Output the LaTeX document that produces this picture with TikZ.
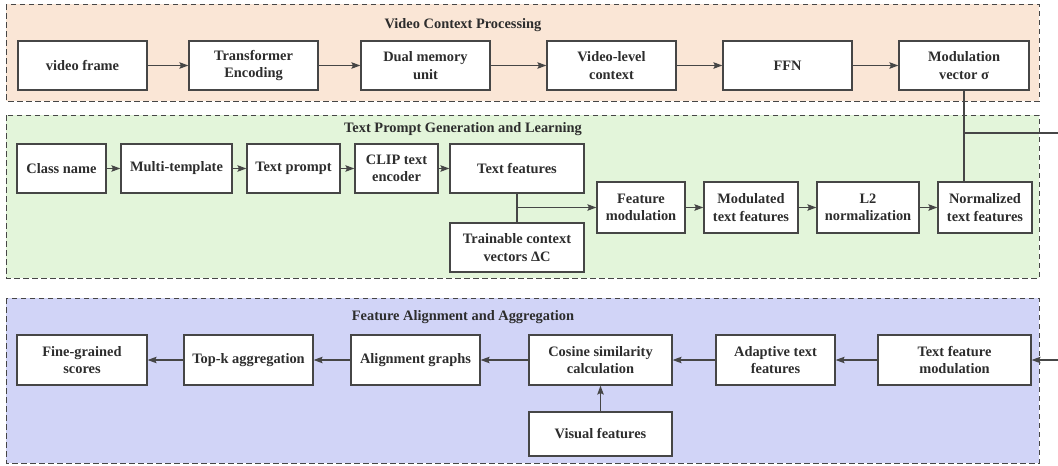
\documentclass[tikz,border=0pt]{standalone}
\usepackage{fontspec}
\setmainfont{Liberation Serif}
\usetikzlibrary{arrows.meta}
\definecolor{orangebg}{RGB}{250,230,214}
\definecolor{greenbg}{RGB}{227,245,218}
\definecolor{bluebg}{RGB}{209,212,247}
\definecolor{edge}{RGB}{70,70,70}
\definecolor{txt}{RGB}{45,45,45}
\begin{document}
\begin{tikzpicture}[x=1pt,y=-1pt,
  group/.style={draw=edge,dashed,dash pattern=on 5.5pt off 3.5pt,line width=1pt},
  stepbox/.style={draw=edge,line width=1.2pt,fill=white,align=center,inner sep=1pt,
    text=txt,font=\bfseries\fontsize{14.4}{17.5}\selectfont},
  gtitle/.style={text=txt,font=\bfseries\fontsize{14.4}{17.5}\selectfont,inner sep=0pt},
  arr/.style={draw=edge,line width=1.2pt,-{Stealth[length=9pt,width=6.5pt,inset=1.5pt]}},
  ln/.style={draw=edge,line width=1.2pt}]
\useasboundingbox (0,0) rectangle (1058,466);
\fill[white] (0,0) rectangle (1058,466);
% groups
\draw[group,fill=orangebg] (6,4) rectangle (1039,101);
\draw[group,fill=greenbg] (6,115) rectangle (1039,278);
\draw[group,fill=bluebg] (6,298) rectangle (1039,463);
\node[gtitle] (t1) at (463,25) {Video Context Processing};
\node[gtitle] (t2) at (463,129) {Text Prompt Generation and Learning};
\node[gtitle] (t3) at (463,317) {Feature Alignment and Aggregation};
% row 1
\node[stepbox,minimum width=129pt,minimum height=49pt] (vf) at (82.5,65.5) {video frame};
\node[stepbox,minimum width=129pt,minimum height=49pt] (te) at (253.5,65.5) {Transformer\\Encoding};
\node[stepbox,minimum width=129pt,minimum height=49pt] (dm) at (425.5,65.5) {Dual memory\\unit};
\node[stepbox,minimum width=129pt,minimum height=49pt] (vl) at (611.5,65.5) {Video-level\\context};
\node[stepbox,minimum width=129pt,minimum height=49pt] (ffn) at (787.5,65.5) {FFN};
\node[stepbox,minimum width=130pt,minimum height=49pt] (mv) at (964,65.5) {Modulation\\vector σ};
\draw[arr] (vf) -- (te);
\draw[arr] (te) -- (dm);
\draw[arr] (dm) -- (vl);
\draw[arr] (vl) -- (ffn);
\draw[arr] (ffn) -- (mv);
% row 2
\node[stepbox,minimum width=89pt,minimum height=49pt] (cn) at (61.5,168.5) {Class name};
\node[stepbox,minimum width=111pt,minimum height=49pt] (mt) at (176.5,168.5) {Multi-template};
\node[stepbox,minimum width=93pt,minimum height=49pt] (tp) at (293.5,168.5) {Text prompt};
\node[stepbox,minimum width=83pt,minimum height=49pt] (clip) at (396.5,168.5) {CLIP text\\encoder};
\node[stepbox,minimum width=134pt,minimum height=49pt] (tf) at (517,168.5) {Text features};
\node[stepbox,minimum width=134pt,minimum height=49pt] (tc) at (517,247.5) {Trainable context\\vectors ΔC};
\draw[arr] (cn) -- (mt);
\draw[arr] (mt) -- (tp);
\draw[arr] (tp) -- (clip);
\draw[arr] (clip) -- (tf);
% row 3
\node[stepbox,minimum width=88pt,minimum height=51pt] (fm) at (641,207.5) {Feature\\modulation};
\node[stepbox,minimum width=94pt,minimum height=51pt] (mtf) at (751,207.5) {Modulated\\text features};
\node[stepbox,minimum width=102pt,minimum height=51pt] (l2) at (868,207.5) {L2\\normalization};
\node[stepbox,minimum width=94pt,minimum height=51pt] (ntf) at (985,207.5) {Normalized\\text features};
\coordinate (jn) at (tf.south |- fm.west);
\draw[ln] (tf.south) -- (tc.north);
\draw[arr] (jn) -- (fm.west);
\draw[arr] (fm) -- (mtf);
\draw[arr] (mtf) -- (l2);
\draw[arr] (l2) -- (ntf);
% vertical link and branch
\coordinate (vtop) at (mv.south);
\coordinate (vbot) at (mv.south |- ntf.north);
\coordinate (br) at (mv.south |- 0,133);
\coordinate (r1) at (1075,133);
\draw[ln] (vtop) -- (vbot);
% row 4
\node[stepbox,minimum width=130pt,minimum height=50pt] (fg) at (82,360) {Fine-grained\\scores};
\node[stepbox,minimum width=129pt,minimum height=50pt] (tk) at (248.5,360) {Top-k aggregation};
\node[stepbox,minimum width=129pt,minimum height=50pt] (ag) at (415.5,360) {Alignment graphs};
\node[stepbox,minimum width=143pt,minimum height=50pt] (cs) at (600.5,360) {Cosine similarity\\calculation};
\node[stepbox,minimum width=119pt,minimum height=50pt] (at) at (775.5,360) {Adaptive text\\features};
\node[stepbox,minimum width=153pt,minimum height=50pt] (tfm) at (954.5,360) {Text feature\\modulation};
\node[stepbox,minimum width=143pt,minimum height=44pt] (vis) at (600.5,434) {Visual features};
\draw[arr] (tk) -- (fg);
\draw[arr] (ag) -- (tk);
\draw[arr] (cs) -- (ag);
\draw[arr] (at) -- (cs);
\draw[arr] (tfm) -- (at);
\draw[arr] (vis) -- (cs);
\draw[arr] (br) -- (r1) |- (tfm.east);
\end{tikzpicture}
\end{document}
